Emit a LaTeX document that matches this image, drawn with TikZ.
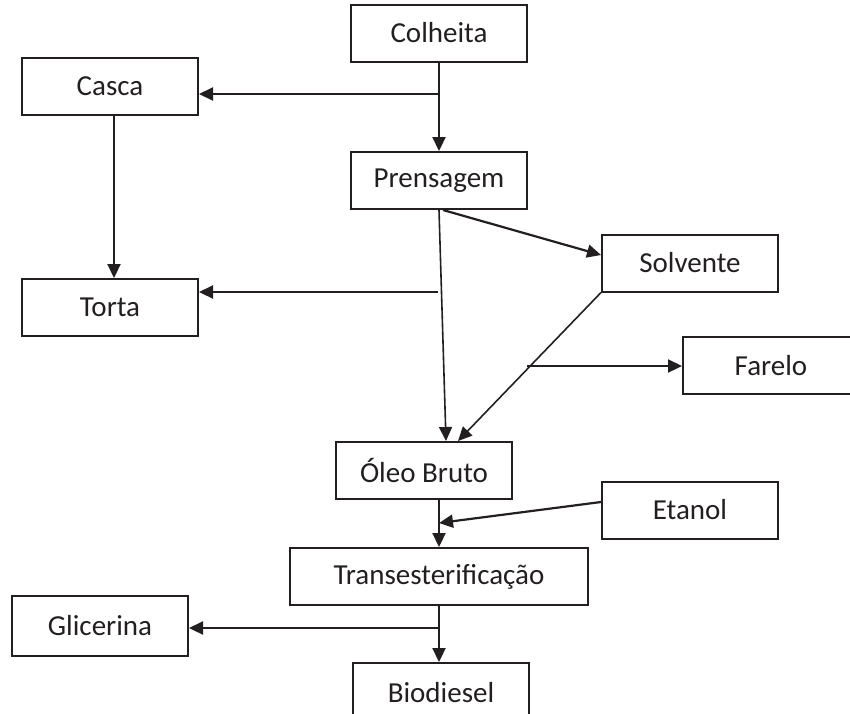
\documentclass[tikz,border=0pt]{standalone}
\usepackage{fontspec}
\setmainfont{Carlito}
\usetikzlibrary{arrows.meta}
\definecolor{ink}{HTML}{231F20}
\begin{document}
\begin{tikzpicture}[x=1pt,y=-1pt,
  box/.style={draw=ink,line width=2pt,minimum width=176pt,minimum height=57pt,inner sep=0pt,
    font=\fontsize{29}{33}\selectfont,text=ink},
  conn/.style={draw=ink,line width=2.2pt,-{Triangle[length=14pt,width=13pt]}}]
\useasboundingbox (0,0) rectangle (850,713);
\node[box] (colh) at (439,33) {Colheita};
\node[box] (casca) at (110,86.5) {Casca};
\node[box] (pren) at (439,180.5) {Prensagem};
\node[box] (solv) at (690,263) {Solvente};
\node[box] (torta) at (110,307.5) {Torta};
\node[box] (far) at (771,365.5) {Farelo};
\node[box] (oleo) at (424,470.5) {Óleo Bruto};
\node[box] (etan) at (690,510) {Etanol};
\node[box,minimum width=298pt] (trans) at (439,576.5) {Transesterificação};
\node[box,minimum height=60pt] (glic) at (100,626) {Glicerina};
\node[box,minimum height=60pt] (bio) at (441,693) {Biodiesel};
\coordinate (j1) at (439,94);
\coordinate (j2) at (438,292);
\coordinate (j3) at (527,366);
\coordinate (j4) at (439,523);
\coordinate (j5) at (439,628);
\draw[conn] (colh.south) -- (pren.north);
\draw[conn] (j1) -- (casca.east |- j1);
\draw[conn] ([xshift=4pt]casca.south) -- ([xshift=4pt]casca.south |- torta.north);
\draw[conn,line width=1.6pt] (pren.south) -- ([xshift=22pt]oleo.north);
\draw[conn] (j2) -- (torta.east |- j2);
\draw[conn] ([xshift=4pt]pren.south) -- ([yshift=8pt]solv.west);
\draw[conn,line width=1.6pt] (solv.south west) -- ([xshift=34pt]oleo.north);
\draw[conn] (j3) -- (far.west |- j3);
\draw[conn] (oleo.south -| trans.north) -- (trans.north);
\draw[conn] ([yshift=8pt]etan.west) -- (j4);
\draw[conn] (trans.south) -- (bio.north -| trans.south);
\draw[conn] (j5) -- (glic.east |- j5);
\end{tikzpicture}
\end{document}
